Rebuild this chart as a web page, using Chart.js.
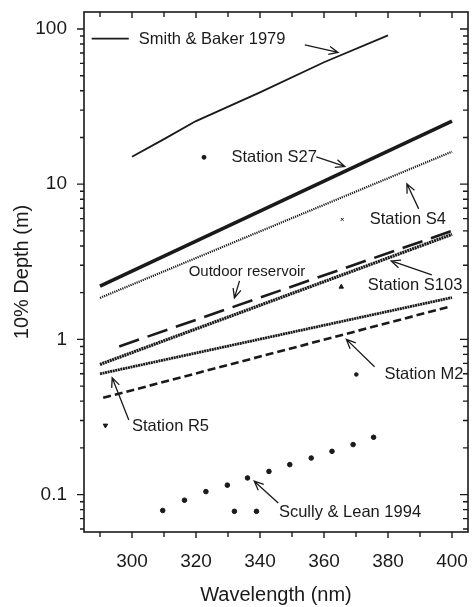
<!DOCTYPE html>
<html>
<head>
<meta charset="utf-8">
<title>10% depth vs wavelength</title>
<script src="https://cdn.jsdelivr.net/npm/chart.js@4.4.1/dist/chart.umd.min.js"></script>
<style>
    html, body { margin: 0; padding: 0; background: #fff; }
    #wrap { width: 473px; height: 607px; }
</style>
</head>
<body>
<div id="wrap"><canvas id="depthChart" width="473" height="607"></canvas></div>
<script>
// wavelength (nm) and 10% depth (m) for each curve
var smithWl = [300, 310, 320, 340, 360, 380];
var smithDepth = [15.0, 19.5, 25.5, 39, 61, 91];

var s27Wl = [290, 400];
var s27Depth = [2.2, 25.5];
var s4Wl = [290, 400];
var s4Depth = [1.85, 16.2];
var outdoorWl = [296, 400];
var outdoorDepth = [0.9, 5.0];
var s103Wl = [290, 400];
var s103Depth = [0.69, 4.75];
var r5Wl = [290, 400];
var r5Depth = [0.6, 1.86];
var m2Wl = [291, 399];
var m2Depth = [0.42, 1.62];

// single measured depths, one per station: S27, S4, S103, M2, R5
var measuredWl = [322.5, 365.7, 365.4, 370.1, 291.7];
var measuredDepth = [14.9, 5.93, 2.18, 0.594, 0.279];

var scullyWl = [309.6, 316.4, 323.1, 329.8, 336.1, 342.8, 349.3, 356.0, 362.5, 369.1, 375.5, 332.0, 338.9];
var scullyDepth = [0.079, 0.092, 0.1045, 0.115, 0.128, 0.141, 0.156, 0.172, 0.190, 0.210, 0.234, 0.078, 0.078];

var xTicks = [300, 320, 340, 360, 380, 400];
var yTicks = [0.1, 1, 10, 100];

// text labels with arrows, in data coordinates
var notes = [
    { text: 'Smith & Baker 1979', at: [302.1, 85.3], from: [354.0, 78.9], to: [364.4, 70.6], key: [287.4, 299.0] },
    { text: 'Station S27', at: [331.1, 14.8], from: [357.6, 15.0], to: [366.5, 13.0] },
    { text: 'Station S4', at: [374.3, 5.93], from: [389.6, 6.93], to: [385.9, 10.05] },
    { text: 'Outdoor reservoir', at: [317.7, 2.72], from: [333.6, 2.38], to: [332.0, 1.85], size: 15 },
    { text: 'Station S103', at: [373.7, 2.21], from: [393.7, 2.60], to: [381.0, 3.20] },
    { text: 'Station M2', at: [378.9, 0.594], from: [375.8, 0.666], to: [367.0, 1.0] },
    { text: 'Station R5', at: [300, 0.276], from: [299, 0.302], to: [293.8, 0.565] },
    { text: 'Scully & Lean 1994', at: [345.9, 0.0769], from: [345.7, 0.0883], to: [338.2, 0.122] }
];

var INK = '#1a1a1a';
var FONT = '"Liberation Sans", Arial, Helvetica, sans-serif';

function pairs(xs, ys) {
    return xs.map(function (v, i) { return { x: v, y: ys[i] }; });
}

function lineSet(label, xs, ys, width, dash) {
    return {
        type: 'line',
        label: label,
        data: pairs(xs, ys),
        borderColor: INK,
        borderWidth: width,
        borderDash: dash || [],
        pointRadius: 0,
        fill: false,
        tension: 0
    };
}

function pointSet(label, xs, ys, style, radius, rotation) {
    return {
        type: 'scatter',
        label: label,
        data: pairs(xs, ys),
        backgroundColor: INK,
        borderColor: INK,
        borderWidth: 1,
        pointStyle: style,
        pointRadius: radius,
        rotation: rotation || 0
    };
}

// minor tick positions
var xMinor = [];
for (var w = 290; w <= 400; w += 10) xMinor.push(w);
var yMinor = [];
[0.01, 0.1, 1, 10].forEach(function (dec) {
    for (var m = 2; m <= 9; m++) yMinor.push(dec * m);
});

function arrow(ctx, x0, y0, x1, y1) {
    var ang = Math.atan2(y1 - y0, x1 - x0);
    var len = 10, spread = 0.42;
    ctx.beginPath();
    ctx.moveTo(x0, y0);
    ctx.lineTo(x1, y1);
    ctx.moveTo(x1 - len * Math.cos(ang - spread), y1 - len * Math.sin(ang - spread));
    ctx.lineTo(x1, y1);
    ctx.lineTo(x1 - len * Math.cos(ang + spread), y1 - len * Math.sin(ang + spread));
    ctx.stroke();
}

var frameAndNotes = {
    id: 'frameAndNotes',
    afterDraw: function (chart) {
        var ctx = chart.ctx, a = chart.chartArea;
        var x = chart.scales.x, y = chart.scales.y;
        ctx.save();
        ctx.strokeStyle = INK;
        ctx.lineWidth = 1.6;
        ctx.strokeRect(a.left, a.top, a.right - a.left, a.bottom - a.top);

        // ticks: outside on bottom/left, inside on top/right
        ctx.lineWidth = 1.4;
        ctx.beginPath();
        xMinor.forEach(function (v) {
            var px = x.getPixelForValue(v);
            var len = xTicks.indexOf(v) >= 0 ? 6 : 5;
            ctx.moveTo(px, a.bottom); ctx.lineTo(px, a.bottom + len);
            ctx.moveTo(px, a.top); ctx.lineTo(px, a.top + len);
        });
        yTicks.concat(yMinor).forEach(function (v) {
            var py = y.getPixelForValue(v);
            if (py < a.top - 0.5 || py > a.bottom + 0.5) return;
            var major = yTicks.indexOf(v) >= 0;
            ctx.moveTo(a.left, py); ctx.lineTo(a.left - (major ? 7 : 4), py);
            ctx.moveTo(a.right, py); ctx.lineTo(a.right - (major ? 8 : 5), py);
        });
        ctx.stroke();

        // labels and arrows
        ctx.fillStyle = INK;
        ctx.textBaseline = 'middle';
        ctx.textAlign = 'left';
        notes.forEach(function (n) {
            ctx.font = (n.size || 16.5) + 'px ' + FONT;
            var tx = x.getPixelForValue(n.at[0]), ty = y.getPixelForValue(n.at[1]);
            ctx.fillText(n.text, tx, ty);
            ctx.lineWidth = 1.3;
            arrow(ctx, x.getPixelForValue(n.from[0]), y.getPixelForValue(n.from[1]),
                x.getPixelForValue(n.to[0]), y.getPixelForValue(n.to[1]));
            if (n.key) {
                ctx.lineWidth = 1.8;
                ctx.beginPath();
                ctx.moveTo(x.getPixelForValue(n.key[0]), ty - 1);
                ctx.lineTo(x.getPixelForValue(n.key[1]), ty - 1);
                ctx.stroke();
            }
        });
        ctx.restore();
    }
};

Chart.defaults.font.family = FONT;
Chart.defaults.color = INK;

var ctx = document.getElementById('depthChart').getContext('2d');
var chart = new Chart(ctx, {
    type: 'line',
    data: {
        datasets: [
            lineSet('Smith & Baker 1979', smithWl, smithDepth, 1.8),
            lineSet('Station S27', s27Wl, s27Depth, 3.6),
            lineSet('Station S4', s4Wl, s4Depth, 2.2, [1.2, 1]),
            lineSet('Outdoor reservoir', outdoorWl, outdoorDepth, 2.6, [21, 9]),
            lineSet('Station S103', s103Wl, s103Depth, 3.2, [2, 0.6]),
            lineSet('Station R5', r5Wl, r5Depth, 2.8, [2, 0.6]),
            lineSet('Station M2', m2Wl, m2Depth, 2.6, [8, 4]),
            pointSet('S27', [measuredWl[0]], [measuredDepth[0]], 'circle', 2),
            pointSet('S4', [measuredWl[1]], [measuredDepth[1]], 'crossRot', 2),
            pointSet('S103', [measuredWl[2]], [measuredDepth[2]], 'triangle', 2.6),
            pointSet('M2', [measuredWl[3]], [measuredDepth[3]], 'circle', 1.8),
            pointSet('R5', [measuredWl[4]], [measuredDepth[4]], 'triangle', 2.6, 180),
            pointSet('Scully & Lean 1994', scullyWl, scullyDepth, 'circle', 2.3)
        ]
    },
    options: {
        responsive: false,
        animation: false,
        layout: { padding: { top: 12, right: 2, bottom: 0, left: 0 } },
        plugins: {
            legend: { display: false },
            tooltip: { enabled: false }
        },
        scales: {
            x: {
                type: 'linear',
                min: 285,
                max: 405,
                afterBuildTicks: function (s) { s.ticks = xTicks.map(function (v) { return { value: v }; }); },
                afterFit: function (s) { s.height = 75; s.paddingLeft = 0; s.paddingRight = 0; },
                grid: { display: false, drawTicks: false },
                border: { display: false },
                ticks: { font: { size: 19 }, padding: 18, maxRotation: 0, callback: function (v) { return String(v); } },
                title: { display: true, text: 'Wavelength (nm)', font: { size: 20 }, padding: { top: 0, bottom: 0 } }
            },
            y: {
                type: 'logarithmic',
                min: 0.0574,
                max: 128.6,
                afterBuildTicks: function (s) { s.ticks = yTicks.map(function (v) { return { value: v }; }); },
                afterFit: function (s) { s.width = 84; s.paddingTop = 0; s.paddingBottom = 0; },
                grid: { display: false, drawTicks: false },
                border: { display: false },
                ticks: { font: { size: 19 }, padding: 17, callback: function (v) { return String(v); } },
                title: { display: true, text: '10% Depth (m)', font: { size: 20 }, padding: { top: 10, bottom: 0 } }
            }
        }
    },
    plugins: [frameAndNotes]
});
</script>
</body>
</html>
